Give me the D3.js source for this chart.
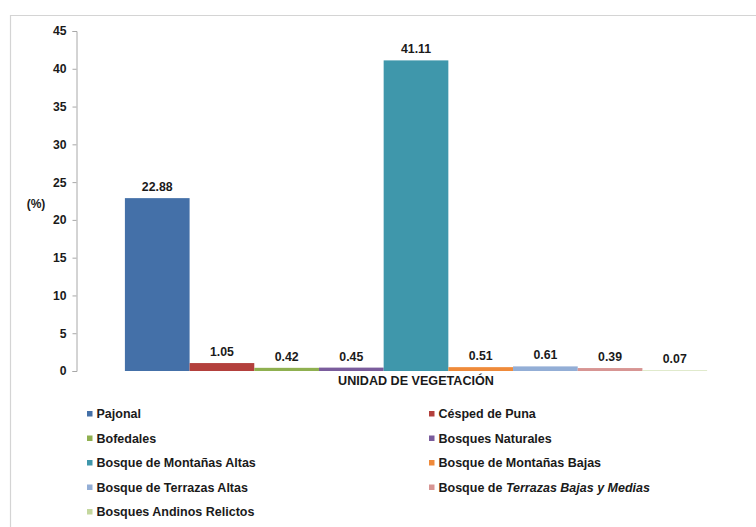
<!DOCTYPE html>
<html>
<head>
<meta charset="utf-8">
<script src="https://cdn.jsdelivr.net/npm/d3@7"></script>
<style>
  html, body { margin: 0; padding: 0; background: #fff; }
  svg { display: block; font-family: "Liberation Sans", Arial, sans-serif; }
</style>
</head>
<body>
<svg id="chart" width="756" height="527"></svg>
<script>
// Vegetation units and their share of the area (%)
const categories = [
  "Pajonal",
  "Césped de Puna",
  "Bofedales",
  "Bosques Naturales",
  "Bosque de Montañas Altas",
  "Bosque de Montañas Bajas",
  "Bosque de Terrazas Altas",
  "Bosque de Terrazas Bajas y Medias",
  "Bosques Andinos Relictos"
];
const values = [22.88, 1.05, 0.42, 0.45, 41.11, 0.51, 0.61, 0.39, 0.07];
const colors = [
  "#4470a8", "#b3403c", "#8fb050", "#7a5c9c", "#3f97ab",
  "#ef8a3a", "#93aed6", "#d79593", "#c4d79e"
];
const yTicks = [0, 5, 10, 15, 20, 25, 30, 35, 40, 45];
const xTitle = "UNIDAD DE VEGETACIÓN";
const yTitle = "(%)";

const svg = d3.select("#chart");
const W = 756;

// Outer frame
svg.append("path")
  .attr("d", `M10.5,${527}V15.5H${W}`)
  .attr("fill", "none")
  .attr("stroke", "#d4d4d4")
  .attr("stroke-width", 1.2);

const plot = { left: 76, right: 756, top: 31, bottom: 371 };

const y = d3.scaleLinear().domain([0, 45]).range([plot.bottom, plot.top]);

// One group of touching bars, one per vegetation unit
const group = d3.scaleBand().domain(["all"])
  .range([plot.left, plot.right]).paddingOuter(0.084).paddingInner(0);
const x = d3.scaleBand().domain(categories)
  .range([group("all"), group("all") + group.bandwidth()]).padding(0);

// Y axis
const yAxis = d3.axisLeft(y).tickValues(yTicks).tickSize(4).tickPadding(6).tickFormat(d3.format("d"));
const gy = svg.append("g").attr("transform", `translate(${plot.left + 0.5},0)`).call(yAxis);
gy.select(".domain").attr("stroke", "#a8a8a8");
gy.selectAll(".tick line").attr("stroke", "#a8a8a8");
gy.selectAll(".tick text")
  .attr("font-size", 12.2).attr("font-weight", "bold").attr("fill", "#1a1a1a")
  .attr("font-family", "'Liberation Sans', Arial, sans-serif");

// Bars
svg.append("g").selectAll("rect")
  .data(categories)
  .join("rect")
  .attr("x", d => x(d))
  .attr("width", x.bandwidth())
  .attr("y", (d, i) => y(values[i]))
  .attr("height", (d, i) => Math.max(y(0) - y(values[i]), 0))
  .attr("fill", (d, i) => colors[i]);

// Value labels
svg.append("g").selectAll("text")
  .data(categories)
  .join("text")
  .attr("x", d => x(d) + x.bandwidth() / 2)
  .attr("y", (d, i) => y(values[i]) - 7)
  .attr("text-anchor", "middle")
  .attr("font-size", 12.3).attr("font-weight", "bold").attr("fill", "#1a1a1a")
  .text((d, i) => values[i].toFixed(2));

// Axis titles
svg.append("text")
  .attr("x", group("all") + group.bandwidth() / 2)
  .attr("y", 384.5)
  .attr("text-anchor", "middle")
  .attr("font-size", 12.6).attr("font-weight", "bold").attr("fill", "#1a1a1a")
  .text(xTitle);

svg.append("text")
  .attr("x", 36).attr("y", 208)
  .attr("text-anchor", "middle")
  .attr("font-size", 12).attr("font-weight", "bold").attr("fill", "#1a1a1a")
  .text(yTitle);

// Legend: two columns, filled row by row
const legendCols = [87, 429];
const legendRows = [414, 438.5, 463, 487.5, 512];
const legend = svg.append("g").selectAll("g")
  .data(categories)
  .join("g")
  .attr("transform", (d, i) => `translate(${legendCols[i % 2]},${legendRows[Math.floor(i / 2)]})`);
legend.append("rect")
  .attr("x", 0).attr("y", -3).attr("width", 5.5).attr("height", 5.5)
  .attr("fill", (d, i) => colors[i]);
legend.append("text")
  .attr("x", 9.5).attr("y", 4.4)
  .attr("font-size", 12.5).attr("font-weight", "bold").attr("fill", "#1a1a1a")
  .each(function (d) {
    const t = d3.select(this);
    if (d === "Bosque de Terrazas Bajas y Medias") {
      t.append("tspan").text("Bosque de ");
      t.append("tspan").attr("font-style", "italic").text("Terrazas Bajas y Medias");
    } else {
      t.text(d);
    }
  });
</script>
</body>
</html>
